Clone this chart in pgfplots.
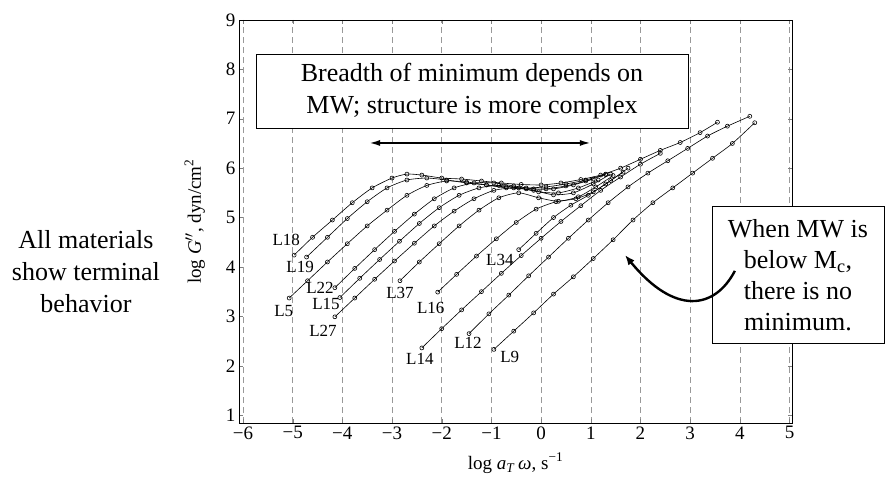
\documentclass[border=0pt]{standalone}
\usepackage{fontspec}
\setmainfont{LiberationSerif}[Extension=.ttf, UprightFont=*-Regular, ItalicFont=*-Italic, BoldFont=*-Bold, BoldItalicFont=*-BoldItalic]
\usepackage{pgfplots}
\pgfplotsset{compat=1.18}
\usetikzlibrary{arrows.meta}

\begin{document}
\begin{tikzpicture}
\begin{axis}[
  name=ax,
  scale only axis, width=553bp, height=403bp,
  xmin=-6.08, xmax=5.05, ymin=0.84, ymax=9,
  xtick={-6,-5,-4,-3,-2,-1,0,1,2,3,4,5},
  xticklabels={−6,−5,−4,−3,−2,−1,0,1,2,3,4,5},
  ytick={1,2,3,4,5,6,7,8,9},
  yticklabels={1,2,3,4,5,6,7,8,9},
  tick label style={font=\fontsize{19bp}{22bp}\selectfont},
  tick align=inside, major tick length=4bp,
  axis line style={line width=0.8bp},
  xmajorgrids, grid style={dash pattern=on 6bp off 4bp, black!40, line width=0.5bp},
  xlabel={log \textit{a}\textsubscript{\textit{T}}\,\textit{ω}, s\textsuperscript{−1}},
  ylabel={log \textit{G}$''$, dyn/cm\textsuperscript{2}},
  xlabel style={at={(axis description cs:0.5,-0.1)}, anchor=center},
  ylabel style={at={(axis description cs:-0.08,0.5)}, anchor=center},
  label style={font=\fontsize{19bp}{22bp}\selectfont},
  clip=false,
  every axis plot post/.append style={black, solid, line width=0.6bp, smooth, tension=0.4,
    mark=o, mark size=2bp, mark options={solid, fill=white, line width=0.6bp}},
]
% high molecular weight melts: terminal zone, plateau with a minimum, transition
\addplot coordinates {(-4.97,4.24) (-4.6,4.6) (-4.2,4.95) (-3.8,5.3) (-3.4,5.6) (-3.0,5.8) (-2.7,5.88) (-2.4,5.86) (-2.0,5.8) (-1.6,5.78) (-1.2,5.74) (-0.8,5.7) (-0.4,5.67) (0,5.66) (0.4,5.7) (0.8,5.77) (1.2,5.86) (1.6,6.0) (2.0,6.18) (2.4,6.36) (2.8,6.52) (3.2,6.72) (3.55,6.93)}; % L18
\addplot coordinates {(-4.72,4.2) (-4.3,4.6) (-3.9,4.98) (-3.5,5.32) (-3.1,5.6) (-2.7,5.76) (-2.3,5.8) (-1.9,5.76) (-1.5,5.7) (-1.1,5.66) (-0.7,5.62) (-0.3,5.6) (0.1,5.62) (0.5,5.68) (0.9,5.76) (1.3,5.88)}; % L19
\addplot coordinates {(-5.07,3.37) (-4.7,3.72) (-4.3,4.1) (-3.9,4.47) (-3.5,4.83) (-3.1,5.15) (-2.7,5.45) (-2.3,5.65) (-1.9,5.74) (-1.5,5.72) (-1.1,5.66) (-0.7,5.6) (-0.3,5.58) (0.1,5.58) (0.5,5.64) (0.9,5.74) (1.3,5.87)}; % L5
\addplot coordinates {(-4.15,3.58) (-3.75,3.97) (-3.35,4.35) (-2.95,4.72) (-2.55,5.07) (-2.15,5.38) (-1.75,5.6) (-1.35,5.7) (-0.95,5.7) (-0.55,5.64) (-0.15,5.58) (0.25,5.58) (0.65,5.66) (1.05,5.78)}; % L22
\addplot coordinates {(-4.05,3.38) (-3.65,3.77) (-3.25,4.15) (-2.85,4.52) (-2.45,4.88) (-2.05,5.2) (-1.65,5.45) (-1.25,5.6) (-0.85,5.65) (-0.45,5.6) (-0.05,5.52) (0.35,5.5) (0.75,5.6) (1.15,5.76)}; % L15
\addplot coordinates {(-4.15,2.99) (-3.75,3.37) (-3.35,3.75) (-2.95,4.12) (-2.55,4.48) (-2.15,4.83) (-1.75,5.13) (-1.35,5.38) (-0.95,5.55) (-0.55,5.6) (-0.15,5.55) (0.25,5.46) (0.65,5.5) (1.05,5.68) (1.4,5.88)}; % L27
\addplot coordinates {(-2.84,3.72) (-2.45,4.1) (-2.05,4.47) (-1.65,4.83) (-1.25,5.15) (-0.85,5.4) (-0.45,5.5) (-0.05,5.4) (0.35,5.33) (0.75,5.42) (1.1,5.62) (1.45,5.85)}; % L37
\addplot coordinates {(-2.08,3.49) (-1.7,3.85) (-1.3,4.22) (-0.9,4.57) (-0.5,4.9) (-0.1,5.17) (0.3,5.32) (0.7,5.38) (1.05,5.52) (1.4,5.75) (1.75,6.0)}; % L16
\addplot coordinates {(-0.45,4.35) (-0.1,4.68) (0.25,5.0) (0.6,5.25) (0.95,5.45) (1.3,5.68) (1.65,5.92)}; % L34
% low molecular weight melts: no plateau minimum
\addplot coordinates {(-2.4,2.36) (-2.0,2.75) (-1.6,3.13) (-1.2,3.5) (-0.8,3.87) (-0.4,4.23) (0,4.58) (0.4,4.92) (0.8,5.24) (1.2,5.55) (1.6,5.82) (2.0,6.08) (2.4,6.3)}; % L14
\addplot coordinates {(-1.45,2.65) (-1.05,3.05) (-0.65,3.43) (-0.25,3.82) (0.15,4.2) (0.55,4.58) (0.95,4.95) (1.35,5.3) (1.75,5.62) (2.15,5.9) (2.55,6.15) (2.95,6.4) (3.35,6.65) (3.75,6.85) (4.2,7.05)}; % L12
\addplot coordinates {(-0.95,2.33) (-0.55,2.7) (-0.15,3.07) (0.25,3.45) (0.65,3.8) (1.05,4.17) (1.45,4.55) (1.85,4.95) (2.25,5.3) (2.65,5.6) (3.05,5.9) (3.45,6.2) (3.85,6.5) (4.3,6.92)}; % L9

% sample labels
\begin{scope}[every node/.style={font=\fontsize{17bp}{20bp}\selectfont, inner sep=0}]
\node at (axis cs:-5.13,4.55) {L18};
\node at (axis cs:-4.85,4.00) {L19};
\node at (axis cs:-5.18,3.11) {L5};
\node at (axis cs:-4.45,3.57) {L22};
\node at (axis cs:-4.33,3.25) {L15};
\node at (axis cs:-4.39,2.70) {L27};
\node at (axis cs:-2.84,3.47) {L37};
\node at (axis cs:-2.22,3.17) {L16};
\node at (axis cs:-0.83,4.14) {L34};
\node at (axis cs:-2.44,2.14) {L14};
\node at (axis cs:-1.47,2.46) {L12};
\node at (axis cs:-0.63,2.18) {L9};
\end{scope}

% annotations
\node[draw, fill=white, line width=0.8bp, minimum width=432bp, minimum height=74bp,
  align=center, inner sep=0, font=\fontsize{26bp}{32bp}\selectfont]
  at (axis cs:-1.39,7.56) {Breadth of minimum depends on\\MW; structure is more complex};
\draw[line width=2.2bp, {Latex[length=12bp,width=6bp]}-{Latex[length=12bp,width=6bp]}]
  (axis cs:-3.48,6.51) -- (axis cs:1.02,6.51);

\node[draw, fill=white, line width=0.8bp, minimum width=172bp, minimum height=137bp,
  align=center, inner sep=0, font=\fontsize{26bp}{31bp}\selectfont]
  at (axis cs:5.17,3.83) {When MW is\\below M\textsubscript{c},\\there is no\\minimum.};
\draw[line width=2.4bp, -{Latex[length=10bp,width=8bp]}]
  (axis cs:3.9,3.92) .. controls (axis cs:3.5,3.15) and (axis cs:2.7,3.0) .. (axis cs:1.69,4.24);

\node[align=center, font=\fontsize{26bp}{32bp}\selectfont]
  at (axis cs:-9.16,3.9) {All materials\\show terminal\\behavior};
\end{axis}
\pgfresetboundingbox
\path ([shift={(-239bp,-55bp)}]ax.south west) rectangle ([shift={(649bp,423bp)}]ax.south west);
\end{tikzpicture}
\end{document}
